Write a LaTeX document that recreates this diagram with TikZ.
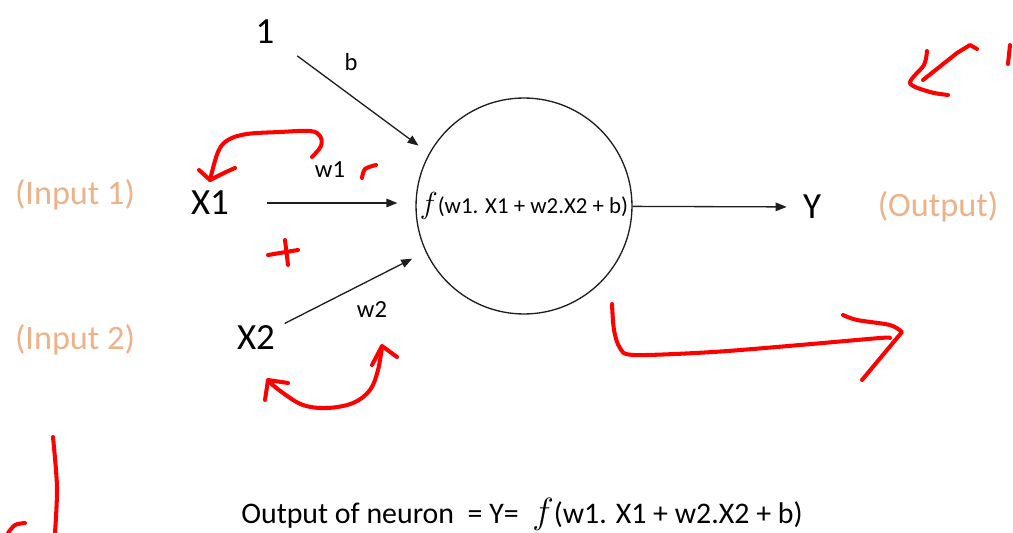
\documentclass[tikz,border=0pt]{standalone}
\usepackage{fontspec}
\setmainfont{Carlito}
\usetikzlibrary{arrows.meta}
\definecolor{peach}{RGB}{236,178,138}
\definecolor{ink}{RGB}{30,30,30}
\definecolor{penred}{RGB}{255,0,0}
\begin{document}
\begin{tikzpicture}[x=0.02cm,y=-0.02cm,
  big/.style={inner sep=0pt,font=\fontsize{21}{25}\selectfont},
  note/.style={inner sep=0pt,font=\fontsize{19.5}{23}\selectfont,text=peach},
  small/.style={inner sep=0pt,font=\fontsize{14}{17}\selectfont},
  arr/.style={draw=ink,line width=0.75pt,-{Triangle[length=0.22cm,width=0.17cm]}},
  redmark/.style={draw=penred,line width=2.3pt,line cap=round,line join=round}]
\useasboundingbox (0,0) rectangle (1013,533);
\fill[white] (0,0) rectangle (1013,533);

% labels
\node[big] (one) at (265,32) {1};
\node[small] (b) at (351,62) {b};
\node[small] (w1) at (330,170) {w1};
\node[small] (w2) at (372,310) {w2};
\node[note] (in1) at (75,195) {(Input 1)};
\node[note] (in2) at (75,340) {(Input 2)};
\node[big] (x1) at (210,203) {X1};
\node[big] (x2) at (256,338) {X2};
\node[circle,draw=ink,line width=0.75pt,minimum size=4.32cm,inner sep=0pt,
      font=\fontsize{13}{15}\selectfont] (neuron) at (524,206)
      {{\fontsize{17}{17}\selectfont$f$}(w1. X1 + w2.X2 + b)};
\node[big] (y) at (812,207) {Y};
\node[note] (out) at (938,207) {(Output)};
\node[inner sep=0pt,font=\fontsize{17}{20}\selectfont] (formula) at (522,514)
      {Output of neuron \ = Y= \ {\fontsize{22}{22}\selectfont$f$}(w1. X1 + w2.X2 + b)};

% connectors
\draw[arr,shorten <=0.56cm,shorten >=0.26cm] (one) -- (neuron.151);
\draw[arr,shorten <=0.76cm,shorten >=0.36cm] (x1) -- (x1 -| neuron.west);
\draw[arr,shorten <=0.21cm,shorten >=0.3cm] (x2) -- (neuron.205);
\draw[arr,shorten >=0.32cm] (neuron) -- (y);

% red hand-drawn marks
\draw[redmark] plot[smooth,tension=0.6] coordinates {(312,157) (321,146) (320,136) (310,131) (280,132) (247,134) (228,140) (218,152) (210,180)};
\draw[redmark] (199,170) -- (210,180) -- (226,172) -- (235,168);
\draw[redmark] plot[smooth] coordinates {(362,178) (365,169) (376,165)};
\draw[redmark] (268,255) -- (298,250);
\draw[redmark] (285,240) -- (288,265);
\draw[redmark] plot[smooth,tension=0.6] coordinates {(268,381) (283,393) (303,405) (327,408) (353,403) (370,390) (378,370) (382,347)};
\draw[redmark] (265,400) -- (268,380) -- (288,383);
\draw[redmark] (372,365) -- (382,346) -- (397,357);
\draw[redmark] plot[smooth,tension=0.5] coordinates {(612,304) (614,330) (620,348) (634,355) (713,352) (800,345) (880,338) (890,338)};
\draw[redmark] plot[smooth,tension=0.5] coordinates {(843,315) (857,320) (890,325) (902,332)} -- (862,380);
\draw[redmark] (977,49) -- (970,45) -- (957,53) -- (923,80);
\draw[redmark] plot[smooth,tension=0.5] coordinates {(927,51) (924,65) (910,83) (930,92) (948,95)};
\draw[redmark] (1010,45) -- (1008,64);
\draw[redmark] plot[smooth] coordinates {(53,437) (57,487) (55,533)};
\draw[redmark] plot[smooth] coordinates {(8,533) (15,525) (25,523)};
\end{tikzpicture}
\end{document}
